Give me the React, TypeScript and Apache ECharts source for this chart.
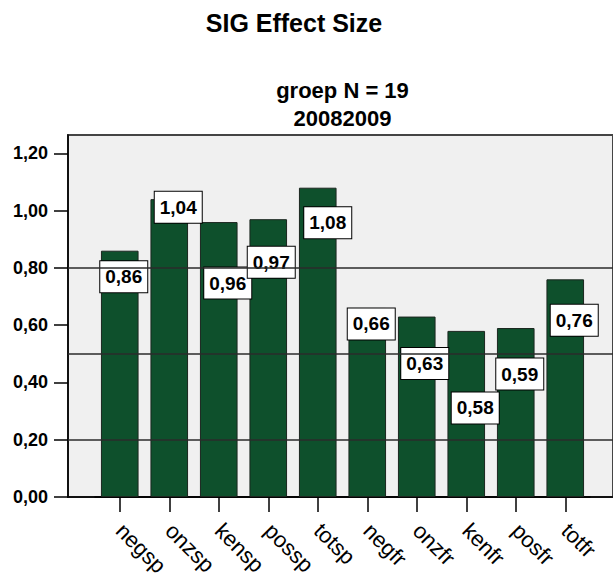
import React, { useEffect, useRef } from "react";
import * as echarts from "echarts";

const categories = ["negsp", "onzsp", "kensp", "possp", "totsp", "negfr", "onzfr", "kenfr", "posfr", "totfr"];
const values = [0.86, 1.04, 0.96, 0.97, 1.08, 0.66, 0.63, 0.58, 0.59, 0.76];
const yTicks = [0, 0.2, 0.4, 0.6, 0.8, 1.0, 1.2];
const refLines = [0.2, 0.5, 0.8];
const titleText = "SIG Effect Size";
const subtitleLines = ["groep N = 19", "20082009"];
// label placement (offset from bar top centre), mimicking the original layout
const labelOffsets = [
  [4, 26], [9, 8], [9, 61], [3, 43], [10, 35],
  [4, 16], [8, 47], [9, 77], [4, 46], [9, 41],
];

const FONT = "'Liberation Sans', Arial, sans-serif";
const fmt = (v: number) => v.toFixed(2).replace(".", ",");

export default function App() {
  const ref = useRef<HTMLDivElement>(null);
  useEffect(() => {
    if (!ref.current) return;
    const chart = echarts.init(ref.current, undefined, { renderer: "svg" });
    const yMax = 1.264;
    chart.setOption({
      animation: false,
      backgroundColor: "#ffffff",
      title: [
        {
          text: titleText,
          left: 289,
          top: 5,
          textAlign: "center",
          textStyle: { fontFamily: FONT, fontSize: 25, fontWeight: "bold", color: "#000" },
        },
        {
          text: subtitleLines.join("\n"),
          left: 337.5,
          top: 71,
          textAlign: "center",
          textStyle: { fontFamily: FONT, fontSize: 22, fontWeight: "bold", color: "#000", lineHeight: 28 },
        },
      ],
      grid: [
        { left: 68, right: -4, top: 135, bottom: 85, show: true, backgroundColor: "#f0f0f0", borderColor: "#444", borderWidth: 2 },
        { left: 95, right: 23, top: 135, bottom: 85 },
      ],
      xAxis: [
        {
          gridIndex: 0, type: "value", min: 0, max: 1,
          axisLine: { show: true, lineStyle: { color: "#000", width: 1.5 } },
          axisTick: { show: false }, axisLabel: { show: false }, splitLine: { show: false },
        },
        {
          gridIndex: 1, type: "category", data: categories,
          axisLine: { show: true, lineStyle: { color: "#000", width: 1.5 } },
          axisTick: { show: true, alignWithLabel: true, length: 15, lineStyle: { color: "#000", width: 1.5 } },
          axisLabel: {
            rotate: -45, margin: 30, verticalAlign: "middle", interval: 0,
            padding: [7, 0, 0, 0],
            fontFamily: FONT, fontSize: 22, color: "#000",
          },
          splitLine: { show: false },
        },
      ],
      yAxis: [
        {
          gridIndex: 0, type: "value", min: 0, max: yMax, interval: 0.2,
          axisLine: { show: true, lineStyle: { color: "#000", width: 1.5 } },
          axisTick: { show: true, length: 14, customValues: yTicks, lineStyle: { color: "#000", width: 1.5 } },
          axisLabel: {
            customValues: yTicks, margin: 20, formatter: (v: number) => fmt(v),
            fontFamily: FONT, fontSize: 18, fontWeight: "bold", color: "#000",
          },
          splitLine: { show: false },
        },
        { gridIndex: 1, type: "value", min: 0, max: yMax, show: false, splitLine: { show: false } },
      ],
      series: [
        {
          type: "line", xAxisIndex: 0, yAxisIndex: 0, data: [], z: 1, silent: true,
          markLine: {
            silent: true, symbol: ["none", "none"], label: { show: false },
            lineStyle: { color: "#2b2b2b", width: 1.5, type: "solid" },
            data: refLines.map((v) => ({ yAxis: v })),
          },
        },
        {
          type: "bar", xAxisIndex: 1, yAxisIndex: 1, z: 3,
          barCategoryGap: "24%",
          itemStyle: { color: "#0e502c", borderColor: "#1b261f", borderWidth: 1 },
          label: {
            show: true, position: "top", distance: 0, align: "center", verticalAlign: "middle",
            formatter: (p: any) => fmt(p.value),
            backgroundColor: "#fff", borderColor: "#000", borderWidth: 1,
            padding: [6, 5, 5, 5], lineHeight: 20,
            fontFamily: FONT, fontSize: 19, fontWeight: "bold", color: "#000",
          },
          data: values.map((v, i) => ({ value: v, label: { offset: labelOffsets[i] } })),
        },
      ],
    });
    return () => chart.dispose();
  }, []);
  return <div ref={ref} style={{ position: "absolute", left: 0, top: 0, width: 613, height: 582 }} />;
}
